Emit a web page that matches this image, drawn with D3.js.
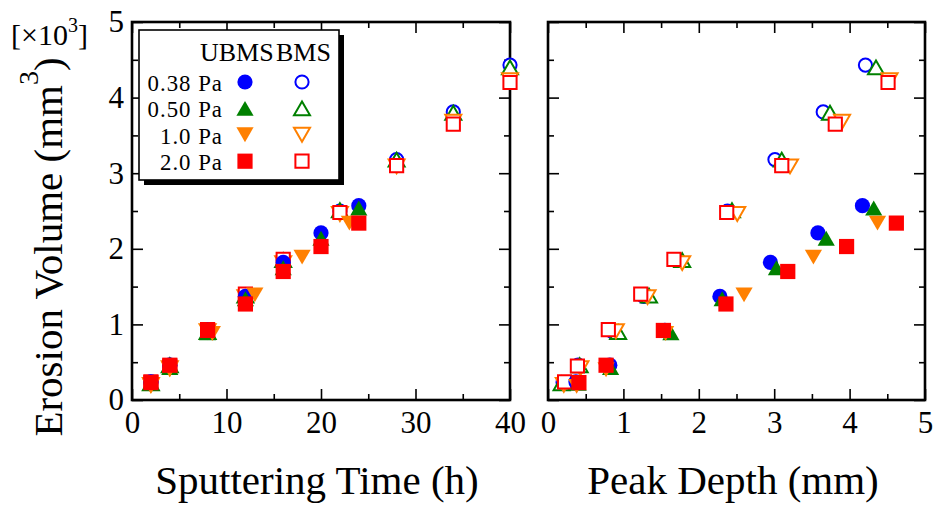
<!DOCTYPE html>
<html>
<head>
<meta charset="utf-8">
<script src="https://cdn.jsdelivr.net/npm/d3@7"></script>
<style>
  body { margin: 0; background: #fff; }
  svg { font-family: "Liberation Serif", "Times New Roman", serif; }
</style>
</head>
<body>
<svg id="chart" width="937" height="508"></svg>
<script>
// 凡例のラベル
var pressures = ["0.38 Pa", "0.50 Pa", "1.0 Pa", "2.0 Pa"];

// UBMS (塗りつぶし) : 時間 [h], 体積 [x10^3 mm^3], 深さ [mm]
var ubmsTime038 = [2, 4, 8, 12, 16, 20, 24];
var ubmsVol038 = [0.24, 0.46, 0.92, 1.37, 1.82, 2.21, 2.57];
var ubmsDepth038 = [0.37, 0.82, 1.55, 2.28, 2.95, 3.58, 4.17];

var ubmsTime050 = [2, 4, 8, 12, 16, 20, 24];
var ubmsVol050 = [0.22, 0.43, 0.89, 1.34, 1.75, 2.14, 2.54];
var ubmsDepth050 = [0.40, 0.83, 1.63, 2.31, 3.03, 3.69, 4.32];

var ubmsTime10 = [2, 4, 8.5, 13, 18, 23];
var ubmsVol10 = [0.18, 0.40, 0.88, 1.39, 1.89, 2.34];
var ubmsDepth10 = [0.38, 0.77, 1.56, 2.60, 3.52, 4.37];

var ubmsTime20 = [2, 4, 8, 12, 16, 20, 24];
var ubmsVol20 = [0.23, 0.46, 0.92, 1.27, 1.70, 2.03, 2.34];
var ubmsDepth20 = [0.41, 0.77, 1.53, 2.36, 3.18, 3.96, 4.62];

// BMS (白抜き)
var bmsTime = [2, 4, 8, 12, 16, 22, 28, 34, 40];
var bmsVol038 = [0.23, 0.46, 0.90, 1.37, 1.85, 2.50, 3.18, 3.81, 4.43];
var bmsDepth038 = [0.20, 0.40, 0.86, 1.27, 1.72, 2.38, 3.01, 3.65, 4.21];
var bmsVol050 = [0.22, 0.46, 0.90, 1.38, 1.85, 2.51, 3.18, 3.80, 4.40];
var bmsDepth050 = [0.18, 0.42, 0.93, 1.34, 1.78, 2.44, 3.10, 3.74, 4.35];
var bmsVol10 = [0.20, 0.42, 0.91, 1.36, 1.81, 2.46, 3.09, 3.68, 4.23];
var bmsDepth10 = [0.21, 0.43, 0.90, 1.32, 1.78, 2.51, 3.21, 3.90, 4.53];
var bmsVol20 = [0.24, 0.45, 0.93, 1.40, 1.86, 2.48, 3.10, 3.65, 4.20];
var bmsDepth20 = [0.22, 0.39, 0.80, 1.23, 1.67, 2.37, 3.10, 3.81, 4.51];

// 目盛り
var yTicks = [0, 1, 2, 3, 4, 5];
var timeTicks = [0, 10, 20, 30, 40];
var depthTicks = [0, 1, 2, 3, 4, 5];

var colors = ["#0000ff", "#008000", "#ff8000", "#ff0000"];
var shapes = ["circle", "up", "down", "square"];

function zip(t, v, d) {
    return t.map((_, i) => ({time: t[i], vol: v[i], depth: d[i]}));
}

// BMS を先に、UBMS を後に描く
var series = [
    {open: true, k: 0, values: zip(bmsTime, bmsVol038, bmsDepth038)},
    {open: true, k: 1, values: zip(bmsTime, bmsVol050, bmsDepth050)},
    {open: true, k: 2, values: zip(bmsTime, bmsVol10, bmsDepth10)},
    {open: true, k: 3, values: zip(bmsTime, bmsVol20, bmsDepth20)},
    {open: false, k: 0, values: zip(ubmsTime038, ubmsVol038, ubmsDepth038)},
    {open: false, k: 1, values: zip(ubmsTime050, ubmsVol050, ubmsDepth050)},
    {open: false, k: 2, values: zip(ubmsTime10, ubmsVol10, ubmsDepth10)},
    {open: false, k: 3, values: zip(ubmsTime20, ubmsVol20, ubmsDepth20)}
];

function markerPath(shape, open) {
    var r;
    if (shape == "circle" || shape == "square") r = open ? 6.6 : 7.6;
    else r = open ? 8 : 8.6;
    if (shape == "circle")
        return "M" + r + ",0A" + r + "," + r + " 0 1,1 " + (-r) + ",0A" + r + "," + r + " 0 1,1 " + r + ",0Z";
    if (shape == "square")
        return "M" + (-r) + "," + (-r) + "H" + r + "V" + r + "H" + (-r) + "Z";
    var h = r * Math.sqrt(3) / 2;
    if (shape == "up")
        return "M0," + (-h) + "L" + r + "," + h + "L" + (-r) + "," + h + "Z";
    return "M0," + h + "L" + r + "," + (-h) + "L" + (-r) + "," + (-h) + "Z";
}

var svg = d3.select("#chart");

var y = d3.scaleLinear().domain([0, 5]).range([400, 22]);
var xTime = d3.scaleLinear().domain([0, 40]).range([132, 510]);
var xDepth = d3.scaleLinear().domain([0, 5]).range([548, 925]);

function drawPanel(x, key, xTicks, xMinor, yLabels) {
    var g = svg.append("g");
    var yMinor = [0.5, 1.5, 2.5, 3.5, 4.5];
    var x0 = x.range()[0], x1 = x.range()[1];

    function style(a) {
        a.select(".domain").remove();
        a.attr("font-family", null).attr("font-size", 31);
        a.selectAll("line").attr("stroke", "#000").attr("stroke-width", 1.6);
        a.selectAll("text").attr("fill", "#000");
    }

    g.append("g").attr("transform", "translate(0,400)")
        .call(d3.axisBottom(x).tickValues(xTicks).tickSize(-11).tickPadding(11).tickFormat(d3.format("d")))
        .call(style);
    g.append("g").attr("transform", "translate(0,400)")
        .call(d3.axisBottom(x).tickValues(xMinor).tickSize(-6).tickFormat(""))
        .call(style);
    g.append("g").attr("transform", "translate(0,22)")
        .call(d3.axisTop(x).tickValues(xTicks).tickSize(-11).tickFormat(""))
        .call(style);
    g.append("g").attr("transform", "translate(0,22)")
        .call(d3.axisTop(x).tickValues(xMinor).tickSize(-6).tickFormat(""))
        .call(style);

    g.append("g").attr("transform", "translate(" + x0 + ",0)")
        .call(d3.axisLeft(y).tickValues(yTicks).tickSize(-11).tickPadding(8)
            .tickFormat(yLabels ? d3.format("d") : ""))
        .call(style);
    g.append("g").attr("transform", "translate(" + x0 + ",0)")
        .call(d3.axisLeft(y).tickValues(yMinor).tickSize(-6).tickFormat(""))
        .call(style);
    g.append("g").attr("transform", "translate(" + x1 + ",0)")
        .call(d3.axisRight(y).tickValues(yTicks).tickSize(-11).tickFormat(""))
        .call(style);
    g.append("g").attr("transform", "translate(" + x1 + ",0)")
        .call(d3.axisRight(y).tickValues(yMinor).tickSize(-6).tickFormat(""))
        .call(style);

    g.append("rect")
        .attr("x", x0).attr("y", 22)
        .attr("width", x1 - x0).attr("height", 378)
        .attr("fill", "none").attr("stroke", "#000").attr("stroke-width", 2.6);

    series.forEach(s => {
        g.append("g").selectAll("path")
            .data(s.values)
            .enter().append("path")
            .attr("transform", d => "translate(" + x(d[key]) + "," + y(d.vol) + ")")
            .attr("d", markerPath(shapes[s.k], s.open))
            .attr("fill", s.open ? "#fff" : colors[s.k])
            .attr("stroke", s.open ? colors[s.k] : "none")
            .attr("stroke-width", 2);
    });
}

drawPanel(xTime, "time", timeTicks, [5, 15, 25, 35], true);
drawPanel(xDepth, "depth", depthTicks, [0.5, 1.5, 2.5, 3.5, 4.5], false);

// 軸ラベル
svg.append("text")
    .attr("x", 317).attr("y", 494)
    .attr("text-anchor", "middle").attr("font-size", 41)
    .text("Sputtering Time (h)");

svg.append("text")
    .attr("x", 733).attr("y", 494)
    .attr("text-anchor", "middle").attr("font-size", 41)
    .text("Peak Depth (mm)");

var yl = svg.append("text")
    .attr("transform", "translate(62,247) rotate(-90)")
    .attr("text-anchor", "middle").attr("font-size", 41);
yl.append("tspan").text("Erosion Volume (mm");
yl.append("tspan").attr("dy", -24).attr("font-size", 28).text("3");
yl.append("tspan").attr("dy", 24).text(")");

var unit = svg.append("text")
    .attr("x", 11).attr("y", 45).attr("font-size", 30);
unit.append("tspan").text("[×10");
unit.append("tspan").attr("dy", -13).attr("font-size", 20).text("3");
unit.append("tspan").attr("dy", 13).text("]");

// 凡例
var legend = svg.append("g");
legend.append("rect")
    .attr("x", 144).attr("y", 35).attr("width", 200).attr("height", 150)
    .attr("fill", "#000");
legend.append("rect")
    .attr("x", 139).attr("y", 30).attr("width", 200).attr("height", 150)
    .attr("fill", "#fff").attr("stroke", "#000").attr("stroke-width", 1.6);

legend.append("text").attr("x", 200).attr("y", 61).attr("font-size", 26).text("UBMS");
legend.append("text").attr("x", 276).attr("y", 61).attr("font-size", 26).text("BMS");

pressures.forEach((p, i) => {
    var yy = 91 + i * 26.4;
    legend.append("text")
        .attr("x", 223).attr("y", yy)
        .attr("text-anchor", "end").attr("font-size", 22.8)
        .attr("letter-spacing", 1)
        .text(p);
    legend.append("path")
        .attr("transform", "translate(245," + (yy - 9) + ")")
        .attr("d", markerPath(shapes[i], false))
        .attr("fill", colors[i]);
    legend.append("path")
        .attr("transform", "translate(302," + (yy - 9) + ")")
        .attr("d", markerPath(shapes[i], true))
        .attr("fill", "#fff").attr("stroke", colors[i]).attr("stroke-width", 2);
});
</script>
</body>
</html>
